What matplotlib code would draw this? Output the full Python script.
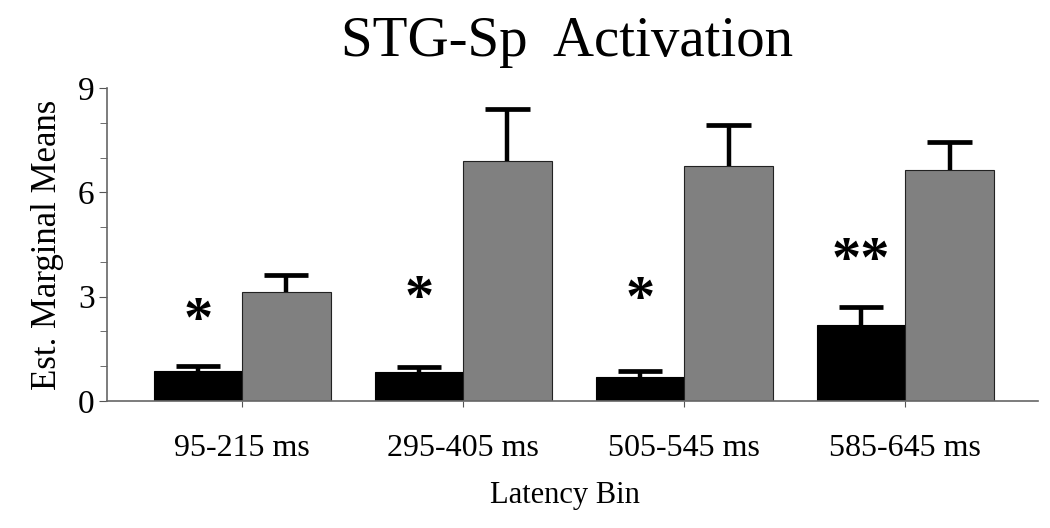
import numpy as np
import matplotlib
matplotlib.use("Agg")
import matplotlib.pyplot as plt

plt.rcParams['font.family'] = ['Liberation Serif', 'DejaVu Serif']

# data
bins = ['95-215 ms', '295-405 ms', '505-545 ms', '585-645 ms']
black_means = [0.87, 0.84, 0.68, 2.20]
black_err = [0.13, 0.15, 0.17, 0.49]
gray_means = [3.14, 6.89, 6.76, 6.64]
gray_err = [0.49, 1.52, 1.18, 0.82]
stars = ['*', '*', '*', '**']
star_y = [2.27, 2.90, 2.87, 4.0]

x = np.arange(len(bins))
w = 0.4
cap = 0.1  # half width of error caps, in bar units

fig = plt.figure(figsize=(10.5, 5.28), dpi=100)
ax = fig.add_axes([0.102, 0.2405, 0.887, 0.5928])

ax.bar(x - w / 2, black_means, w, color='black', edgecolor='black', linewidth=0.8)
ax.bar(x + w / 2, gray_means, w, color='#808080', edgecolor='#222222', linewidth=0.8)

# upper error bars only
for xs, m, e in [(x - w / 2, black_means, black_err), (x + w / 2, gray_means, gray_err)]:
    tops = np.array(m) + np.array(e)
    ax.vlines(xs, m, tops, color='black', linewidth=3.2)
    ax.hlines(tops, xs - cap, xs + cap, color='black', linewidth=3.4)

for xi, s, sy in zip(x, stars, star_y):
    ax.text(xi - w / 2, sy, s, ha='center', va='center', fontsize=42,
            fontweight='bold')

ax.set_xlim(-0.611, 3.602)
ax.set_ylim(0, 9)
ax.set_yticks([0, 3, 6, 9])
ax.set_yticks(np.arange(0, 10, 1), minor=True)
ax.set_xticks(x)
ax.set_xticklabels(bins, fontsize=23)
ax.tick_params(axis='y', labelsize=24, length=6, color='#555555', pad=3)
ax.tick_params(axis='y', which='minor', length=5, color='#555555')
ax.tick_params(axis='x', length=4, color='#555555', pad=20)

for side in ['top', 'right']:
    ax.spines[side].set_visible(False)
for side in ['left', 'bottom']:
    ax.spines[side].set_color('#666666')
    ax.spines[side].set_linewidth(1.2)

ax.set_ylabel('Est. Marginal Means', fontsize=25, labelpad=10)
fig.text(0.538, 0.062, 'Latency Bin', ha='center', va='center', fontsize=22)
fig.text(0.54, 0.92, 'STG-Sp  Activation', ha='center', va='center', fontsize=41)

fig.savefig('out.png', dpi=100)
